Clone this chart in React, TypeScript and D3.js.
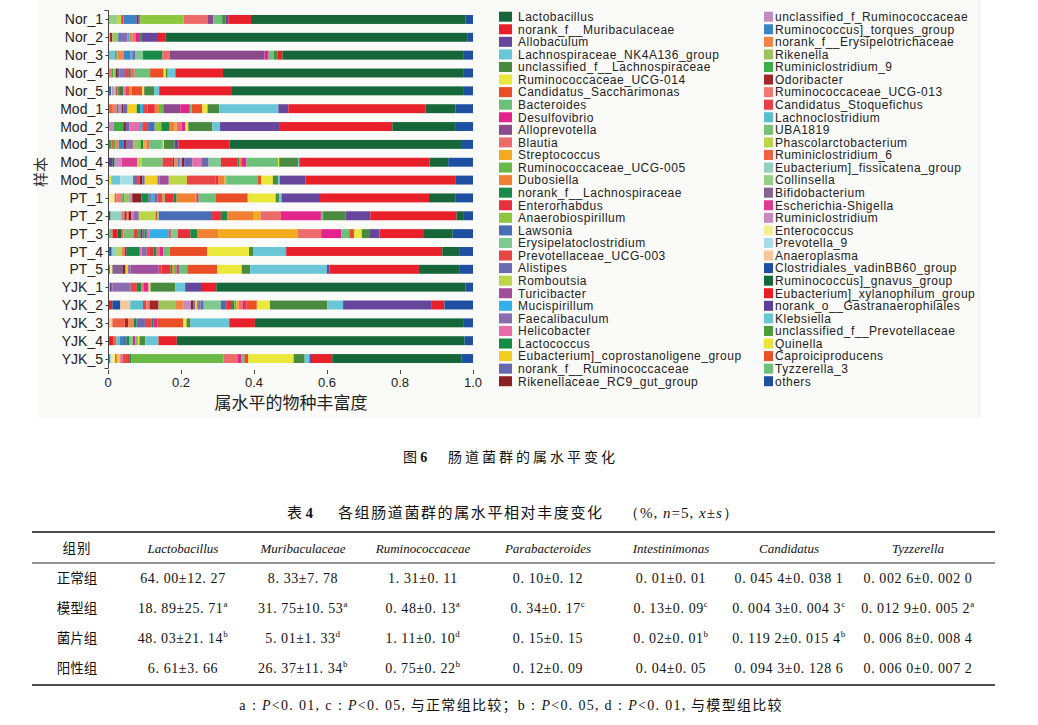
import React from "react";
import * as d3 from "d3";

// ---------------- Chart data ----------------
const genera = [
  "Lactobacillus", "norank_f__Muribaculaceae", "Allobaculum", "Lachnospiraceae_NK4A136_group",
  "unclassified_f__Lachnospiraceae", "Ruminococcaceae_UCG-014", "Candidatus_Saccharimonas", "Bacteroides",
  "Desulfovibrio", "Alloprevotella", "Blautia", "Streptococcus", "Ruminococcaceae_UCG-005", "Dubosiella",
  "norank_f__Lachnospiraceae", "Enterorhabdus", "Anaerobiospirillum", "Lawsonia", "Erysipelatoclostridium",
  "Prevotellaceae_UCG-003", "Alistipes", "Romboutsia", "Turicibacter", "Mucispirillum", "Faecalibaculum",
  "Helicobacter", "Lactococcus", "Eubacterium]_coprostanoligene_group", "norank_f__Ruminococcaceae",
  "Rikenellaceae_RC9_gut_group",
  "unclassified_f_Ruminococcaceae", "Ruminococcus]_torques_group", "norank_f__Erysipelotrichaceae", "Rikenella",
  "Ruminiclostridium_9", "Odoribacter", "Ruminococcaceae_UCG-013", "Candidatus_Stoquefichus", "Lachnoclostridium",
  "UBA1819", "Phascolarctobacterium", "Ruminiclostridium_6", "Eubacterium]_fissicatena_group", "Collinsella",
  "Bifidobacterium", "Escherichia-Shigella", "Ruminiclostridium", "Enterococcus", "Prevotella_9", "Anaeroplasma",
  "Clostridiales_vadinBB60_group", "Ruminococcus]_gnavus_group", "Eubacterium]_xylanophilum_group",
  "norank_o__Gastranaerophilales", "Klebsiella", "unclassified_f__Prevotellaceae", "Quinella", "Caproiciproducens",
  "Tyzzerella_3", "others",
];

const colors = [
  "#17663a", "#e8202a", "#65469c", "#68c6d6", "#4a8a3e", "#ebe83c", "#ea4e25", "#6cc17a", "#e4248d", "#8b4a8b",
  "#ec6b6b", "#f2ab1f", "#6ab944", "#f08132", "#198a47", "#e8303a", "#8dc63f", "#4a6db5", "#7ec98f", "#e84545",
  "#6b69b0", "#bcd64a", "#a24e9e", "#33b1e6", "#8a6cb0", "#e86ca8", "#178a44", "#f3cf24", "#6a67b1", "#8c2125",
  "#c48bc0", "#3a84c5", "#ef8546", "#9dc45c", "#3fae49", "#a5262a", "#ee7a70", "#e84049", "#5bc0cd", "#7abf76",
  "#bcd54a", "#ee6042", "#93d0bf", "#98cf86", "#86628f", "#dd3c92", "#c88ac0", "#f2ee96", "#a8dce6", "#f8c89a",
  "#1d4ea0", "#136a38", "#ec1c24", "#5c3f99", "#6cc7d5", "#4c9a3c", "#ece43a", "#eb5228", "#6ec079", "#1f4fa0",
];

const samples = [
  "Nor_1", "Nor_2", "Nor_3", "Nor_4", "Nor_5", "Mod_1", "Mod_2", "Mod_3", "Mod_4", "Mod_5",
  "PT_1", "PT_2", "PT_3", "PT_4", "PT_5", "YJK_1", "YJK_2", "YJK_3", "YJK_4", "YJK_5",
];

// [legend index (1-based), relative abundance]
type Seg = [number, number];
const Nor_1: Seg[] = [[44,.027],[41,.009],[38,.006],[32,.036],[30,.004],[25,.006],[17,.119],[11,.065],[10,.016],[8,.024],[5,.009],[3,.008],[2,.062],[1,.586],[60,.021]];
const Nor_2: Seg[] = [[57,.005],[36,.007],[34,.016],[32,.005],[29,.005],[25,.015],[24,.005],[14,.009],[11,.009],[9,.009],[5,.006],[3,.046],[2,.020],[1,.827],[60,.016]];
const Nor_3: Seg[] = [[55,.019],[42,.004],[35,.003],[33,.017],[32,.019],[24,.005],[21,.007],[19,.022],[15,.053],[11,.020],[10,.260],[9,.011],[8,.014],[5,.010],[2,.014],[1,.495],[60,.027]];
const Nor_4: Seg[] = [[37,.009],[35,.005],[34,.007],[30,.006],[29,.005],[25,.007],[21,.007],[20,.011],[15,.005],[11,.011],[8,.042],[7,.037],[6,.006],[5,.005],[4,.021],[2,.130],[1,.658],[60,.025]];
const Nor_5: Seg[] = [[54,.005],[51,.003],[50,.003],[47,.005],[43,.005],[38,.005],[35,.005],[30,.004],[27,.007],[26,.007],[20,.009],[14,.007],[7,.029],[6,.005],[5,.027],[4,.014],[2,.199],[1,.634],[60,.025]];
const Mod_1: Seg[] = [[56,.005],[42,.008],[37,.006],[33,.005],[32,.005],[31,.008],[30,.004],[29,.012],[28,.025],[27,.009],[24,.008],[20,.012],[16,.020],[14,.011],[13,.012],[10,.046],[9,.026],[8,.005],[7,.029],[6,.014],[5,.032],[4,.160],[3,.027],[2,.372],[1,.082],[60,.047]];
const Mod_2: Seg[] = [[47,.016],[35,.026],[30,.007],[29,.009],[26,.027],[24,.009],[20,.016],[18,.018],[17,.018],[15,.023],[14,.014],[12,.005],[11,.014],[9,.009],[6,.009],[5,.066],[4,.021],[3,.164],[2,.308],[1,.172],[60,.049]];
const Mod_3: Seg[] = [[56,.009],[42,.005],[35,.007],[33,.008],[32,.014],[30,.006],[25,.014],[20,.005],[19,.014],[17,.008],[15,.006],[12,.009],[11,.009],[8,.036],[6,.003],[5,.029],[3,.011],[2,.140],[1,.636],[60,.030]];
const Mod_4: Seg[] = [[54,.012],[52,.006],[47,.020],[46,.042],[41,.013],[40,.057],[38,.027],[36,.005],[33,.009],[32,.006],[31,.006],[30,.006],[29,.023],[26,.026],[21,.018],[19,.034],[16,.046],[15,.005],[14,.005],[9,.014],[8,.087],[6,.003],[5,.052],[4,.003],[2,.358],[1,.051],[60,.068]];
const Mod_5: Seg[] = [[57,.009],[55,.025],[49,.035],[45,.011],[38,.007],[30,.007],[29,.007],[28,.035],[25,.006],[23,.025],[22,.050],[20,.078],[16,.009],[14,.016],[12,.005],[8,.087],[7,.009],[6,.032],[5,.014],[4,.005],[3,.071],[2,.411],[1,.002],[60,.047]];
const PT_1: Seg[] = [[48,.018],[42,.005],[37,.016],[35,.006],[34,.012],[31,.009],[30,.025],[27,.020],[25,.006],[24,.009],[21,.009],[20,.014],[17,.006],[16,.023],[15,.009],[14,.051],[11,.004],[9,.005],[8,.047],[7,.087],[6,.076],[5,.009],[4,.007],[3,.105],[2,.297],[1,.073],[60,.047]];
const PT_2: Seg[] = [[52,.007],[43,.029],[37,.009],[36,.006],[33,.005],[30,.007],[26,.006],[25,.015],[22,.046],[20,.004],[19,.005],[18,.145],[16,.024],[15,.017],[14,.071],[12,.020],[11,.056],[9,.109],[8,.006],[5,.061],[3,.068],[2,.235],[1,.018],[60,.027]];
const PT_3: Seg[] = [[59,.012],[53,.014],[52,.011],[42,.005],[40,.027],[38,.012],[35,.007],[30,.005],[29,.006],[27,.006],[26,.007],[24,.052],[20,.006],[19,.019],[16,.034],[15,.018],[14,.057],[12,.215],[11,.064],[9,.055],[8,.021],[7,.014],[6,.020],[5,.020],[3,.028],[2,.118],[1,.080],[60,.055]];
const PT_4: Seg[] = [[54,.005],[51,.005],[43,.014],[41,.013],[37,.009],[36,.005],[27,.036],[26,.005],[25,.014],[20,.009],[16,.009],[15,.009],[11,.009],[9,.009],[8,.018],[7,.102],[6,.115],[5,.011],[4,.089],[3,.002],[2,.427],[1,.046],[60,.038]];
const PT_5: Seg[] = [[51,.005],[48,.007],[45,.029],[30,.007],[28,.007],[25,.007],[23,.077],[20,.007],[16,.025],[15,.004],[14,.004],[13,.009],[9,.006],[8,.023],[7,.082],[6,.067],[5,.023],[4,.210],[3,.007],[2,.245],[1,.112],[60,.036]];
const YJK_1: Seg[] = [[57,.005],[54,.004],[53,.003],[25,.050],[20,.017],[15,.012],[11,.006],[9,.014],[6,.005],[5,.068],[4,.027],[3,.046],[2,.039],[1,.682],[60,.020]];
const YJK_2: Seg[] = [[53,.012],[51,.022],[50,.027],[39,.035],[38,.009],[37,.009],[36,.025],[34,.046],[33,.023],[31,.020],[30,.007],[29,.005],[28,.005],[25,.009],[21,.009],[19,.047],[18,.015],[16,.016],[15,.006],[13,.005],[12,.007],[11,.012],[9,.009],[7,.029],[6,.036],[5,.158],[4,.043],[3,.242],[2,.036],[1,.001],[60,.078]];
const YJK_3: Seg[] = [[50,.012],[42,.034],[36,.009],[33,.016],[27,.007],[21,.023],[20,.018],[15,.005],[9,.011],[7,.071],[6,.009],[5,.011],[4,.106],[2,.070],[1,.570],[60,.027]];
const YJK_4: Seg[] = [[54,.005],[53,.009],[42,.009],[39,.009],[32,.009],[29,.009],[27,.009],[19,.009],[9,.007],[8,.007],[6,.004],[5,.016],[4,.036],[2,.050],[1,.787],[60,.023]];
const YJK_5: Seg[] = [[54,.005],[49,.005],[48,.009],[42,.005],[28,.009],[26,.007],[20,.012],[16,.006],[15,.005],[13,.251],[11,.038],[9,.010],[8,.009],[7,.011],[6,.123],[5,.030],[4,.013],[3,.007],[2,.055],[1,.351],[60,.032]];

const sampleSegs = [Nor_1, Nor_2, Nor_3, Nor_4, Nor_5, Mod_1, Mod_2, Mod_3, Mod_4, Mod_5,
  PT_1, PT_2, PT_3, PT_4, PT_5, YJK_1, YJK_2, YJK_3, YJK_4, YJK_5];

const xTicks = [0, 0.2, 0.4, 0.6, 0.8, 1.0];
const xTickLabels = ["0", "0.2", "0.4", "0.6", "0.8", "1.0"];

// ---------------- Table data ----------------
const tableGroups = ["正常组", "模型组", "菌片组", "阳性组"];
const tableHeaders = ["Lactobacillus", "Muribaculaceae", "Ruminococcaceae", "Parabacteroides", "Intestinimonas", "Candidatus", "Tyzzerella"];
const rowNormal = ["64. 00±12. 27", "8. 33±7. 78", "1. 31±0. 11", "0. 10±0. 12", "0. 01±0. 01", "0. 045 4±0. 038 1", "0. 002 6±0. 002 0"];
const rowModel = ["18. 89±25. 71", "31. 75±10. 53", "0. 48±0. 13", "0. 34±0. 17", "0. 13±0. 09", "0. 004 3±0. 004 3", "0. 012 9±0. 005 2"];
const rowTablet = ["48. 03±21. 14", "5. 01±1. 33", "1. 11±0. 10", "0. 15±0. 15", "0. 02±0. 01", "0. 119 2±0. 015 4", "0. 006 8±0. 008 4"];
const rowPositive = ["6. 61±3. 66", "26. 37±11. 34", "0. 75±0. 22", "0. 12±0. 09", "0. 04±0. 05", "0. 094 3±0. 128 6", "0. 006 0±0. 007 2"];
const supNormal = ["", "", "", "", "", "", ""];
const supModel = ["a", "a", "a", "c", "c", "c", "a"];
const supTablet = ["b", "d", "d", "", "b", "b", ""];
const supPositive = ["", "b", "b", "", "", "", ""];

const SANS = "'Liberation Sans', Arial, sans-serif";
const CJK = "'Noto Sans CJK SC', sans-serif";
const SERIF = "'Liberation Serif', 'Times New Roman', serif";

export default function App() {
  // stack order: others at right end, then Lactobacillus, ... Tyzzerella_3 at left
  const keys = genera.map((_, i) => i);
  const stackKeys = [...keys.slice(0, 59).reverse(), 59].map(String);
  const rows = samples.map((s, si) => {
    const r: any = { sample: s };
    genera.forEach((_, gi) => (r[String(gi)] = 0));
    sampleSegs[si].forEach(([g, v]) => (r[String(g - 1)] = v));
    return r;
  });
  const series = d3.stack<any>().keys(stackKeys).offset(d3.stackOffsetExpand)(rows);

  const x = d3.scaleLinear().domain([0, 1]).range([108, 473]);
  const y = d3.scaleBand().domain(samples).range([10, 368]).paddingInner(0.5).paddingOuter(0.28);

  const legendY = (i: number) => 16.7 + i * 12.57;

  const colX = [77, 183, 303, 423, 548, 671, 789, 918];
  const rowY = [578, 608, 638, 668];
  const tableRows = [rowNormal, rowModel, rowTablet, rowPositive];
  const tableSups = [supNormal, supModel, supTablet, supPositive];

  return (
    <svg width={1038} height={725} style={{ position: "absolute", left: 0, top: 0, background: "#fff" }}>
      <rect x={0} y={0} width={1038} height={725} fill="#ffffff" />
      <rect x={37} y={0} width={942} height={418} fill="#fafaf9" />
      <line x1={979} x2={979} y1={0} y2={418} stroke="#e8e8e8" strokeWidth={1} />

      {/* bars */}
      <g>
        {series.map((s) => (
          <g key={s.key} fill={colors[+s.key]}>
            {s.map((d: any, i: number) => {
              const w = x(d[1]) - x(d[0]);
              if (w <= 0) return null;
              return <rect key={i} x={x(d[0])} y={y(samples[i])} width={w} height={y.bandwidth()} />;
            })}
          </g>
        ))}
      </g>

      {/* y axis */}
      <g stroke="#444" strokeWidth={1} fill="none">
        <path d={`M104.5,10.5H108.5V368.5H104.5`} />
        {samples.map((s) => {
          const cy = Math.round((y(s) as number) + y.bandwidth() / 2) + 0.5;
          return <line key={s} x1={105.5} x2={108.5} y1={cy} y2={cy} />;
        })}
      </g>
      {samples.map((s) => (
        <text key={s} x={103} y={(y(s) as number) + y.bandwidth() / 2} dy="0.36em" textAnchor="end"
          fontFamily={SANS} fontSize={14} fill="#222">{s}</text>
      ))}
      <text transform="translate(46,172) rotate(-90)" textAnchor="middle" fontFamily={CJK} fontSize={15} fill="#333">样本</text>

      {/* x axis (ticks only) */}
      <g stroke="#444" strokeWidth={1}>
        {xTicks.map((t) => (
          <line key={t} x1={Math.round(x(t)) + 0.5} x2={Math.round(x(t)) + 0.5} y1={370} y2={374} />
        ))}
      </g>
      {xTicks.map((t, i) => (
        <text key={t} x={x(t)} y={387} textAnchor="middle" fontFamily={SANS} fontSize={13} fill="#222">{xTickLabels[i]}</text>
      ))}
      <text x={291} y={409} textAnchor="middle" fontFamily={CJK} fontSize={17} fill="#222">属水平的物种丰富度</text>

      {/* legend */}
      {genera.map((g, i) => {
        const col = i < 30 ? 0 : 1;
        const row = i % 30;
        const sx = col === 0 ? 499 : 764;
        const sw = col === 0 ? 13 : 9;
        const tx = col === 0 ? 518 : 775;
        const cy = legendY(row);
        return (
          <g key={g}>
            <rect x={sx} y={cy - 5} width={sw} height={10} fill={colors[i]} />
            <text x={tx} y={cy} dy="0.36em" fontFamily={SANS} fontSize={12} letterSpacing={0.5} fill="#222">{g}</text>
          </g>
        );
      })}

      {/* figure caption */}
      <text x={403} y={462} fontFamily={CJK} fontSize={14} fill="#111">
        图 <tspan fontFamily={SERIF} fontWeight="bold">6</tspan>
        <tspan x={448} letterSpacing={3}>肠道菌群的属水平变化</tspan>
      </text>

      {/* table title */}
      <text x={287} y={518} fontFamily={CJK} fontSize={15} fill="#111">
        表 <tspan fontFamily={SERIF} fontWeight="bold">4</tspan>
        <tspan x={338} letterSpacing={1.6}>各组肠道菌群的属水平相对丰度变化</tspan>
        <tspan x={624} fontFamily={SERIF} letterSpacing={1}>（%, <tspan fontStyle="italic">n</tspan>=5, <tspan fontStyle="italic">x</tspan>±<tspan fontStyle="italic">s</tspan>）</tspan>
      </text>

      {/* table rules */}
      <line x1={32} x2={995} y1={532} y2={532} stroke="#111" strokeWidth={1.6} />
      <line x1={32} x2={995} y1={563} y2={563} stroke="#111" strokeWidth={0.9} />
      <line x1={32} x2={995} y1={685} y2={685} stroke="#111" strokeWidth={1.6} />

      {/* header */}
      <text x={colX[0]} y={553} textAnchor="middle" fontFamily={CJK} fontSize={13.5} letterSpacing={1} fill="#111">组别</text>
      {tableHeaders.map((h, i) => (
        <text key={h} x={colX[i + 1]} y={553} textAnchor="middle" fontFamily={SERIF} fontStyle="italic" fontSize={13} fill="#111">{h}</text>
      ))}

      {/* rows */}
      {tableRows.map((r, ri) => (
        <g key={ri}>
          <text x={colX[0]} y={rowY[ri] + 5} textAnchor="middle" fontFamily={CJK} fontSize={13.5} fill="#111">{tableGroups[ri]}</text>
          {r.map((v, ci) => (
            <text key={ci} x={colX[ci + 1]} y={rowY[ri] + 5} textAnchor="middle" fontFamily={SERIF} fontSize={14} letterSpacing={0.6} fill="#111">
              {v}
              {tableSups[ri][ci] ? <tspan fontSize={9} dy={-6}>{tableSups[ri][ci]}</tspan> : null}
            </text>
          ))}
        </g>
      ))}

      {/* footnote */}
      <text x={511} y={710} textAnchor="middle" fontFamily={SERIF} fontSize={14} letterSpacing={1.3} fill="#111">
        a：<tspan fontStyle="italic">P</tspan>&lt;0. 01, c：<tspan fontStyle="italic">P</tspan>&lt;0. 05,
        <tspan fontFamily={CJK}> 与正常组比较；</tspan>b：<tspan fontStyle="italic">P</tspan>&lt;0. 05, d：<tspan fontStyle="italic">P</tspan>&lt;0. 01,
        <tspan fontFamily={CJK}> 与模型组比较</tspan>
      </text>
    </svg>
  );
}
